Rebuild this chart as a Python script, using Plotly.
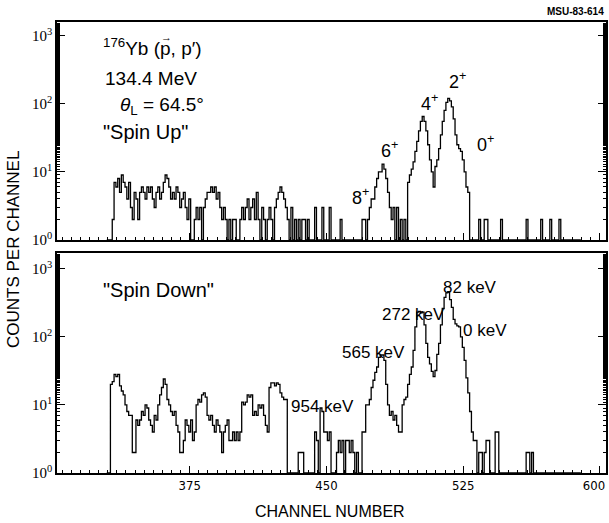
import numpy as np
import plotly.graph_objects as go

# ---------------- data ----------------
first_channel = 330
spin_up = [
    0, 0, 0, 2, 7, 6, 8, 5, 9, 7,        # 330
    6, 4, 7, 3, 2, 5, 4, 2, 5, 6,        # 340
    5, 4, 6, 5, 6, 4, 3, 5, 6, 4,        # 350
    5, 7, 9, 8, 6, 4, 5, 4, 6, 5,        # 360
    3, 4, 5, 3, 2, 4, 1, 0, 2, 3,        # 370
    2, 3, 1, 3, 4, 5, 5, 6, 5, 6,        # 380
    4, 5, 3, 2, 3, 2, 1, 2, 0, 2,        # 390
    2, 1, 0, 2, 3, 2, 3, 4, 2, 3,        # 400
    4, 2, 5, 2, 0, 3, 2, 0, 2, 3,        # 410
    2, 0, 3, 4, 5, 6, 5, 4, 3, 2,        # 420
    0, 3, 0, 2, 0, 2, 0, 2, 2, 0,        # 430
    2, 0, 0, 0, 3, 0, 0, 0, 3, 0,        # 440
    0, 0, 3, 0, 0, 0, 0, 0, 2, 0,        # 450
    0, 0, 0, 0, 0, 0, 0, 0, 0, 0,        # 460
    2, 2, 0, 2, 3, 4, 4, 6, 8, 10,       # 470
    10, 13, 11, 8, 5, 3, 2, 3, 0, 3,     # 480
    0, 2, 0, 2, 0, 7, 9, 11, 14, 20,     # 490
    28, 40, 55, 65, 55, 40, 25, 15, 10, 6,   # 500
    12, 15, 22, 35, 55, 80, 105, 120, 110, 90,  # 510
    60, 35, 25, 22, 20, 15, 10, 6, 5, 0,  # 520
    0, 0, 0, 0, 2, 0, 0, 2, 2, 0,        # 530
    0, 0, 0, 0, 0, 0, 2, 0, 0, 0,        # 540
    0, 0, 0, 0, 0, 0, 0, 0, 0, 0,        # 550
    2, 0, 0, 0, 0, 0, 0, 0, 2, 0,        # 560
    0, 0, 0, 2, 0, 0, 0, 0, 2, 0,        # 570
    0, 0, 0, 0, 0, 0, 0, 0, 0, 0,        # 580
]
spin_down = [
    0, 0, 20, 22, 28, 26, 28, 19, 16, 14,     # 330
    10, 8, 7, 7, 2, 2, 6, 5, 6, 8,            # 340
    7, 10, 9, 6, 5, 4, 7, 6, 10, 14,          # 350
    18, 24, 20, 12, 10, 8, 7, 8, 5, 4,        # 360
    2, 2, 3, 6, 5, 4, 6, 3, 4, 10,            # 370
    12, 11, 14, 15, 13, 7, 6, 7, 5, 4,        # 380
    6, 5, 4, 2, 4, 5, 6, 3, 3, 4,             # 390
    3, 4, 3, 4, 11, 10, 11, 14, 13, 14,       # 400
    7, 8, 7, 10, 9, 10, 7, 5, 4, 18,          # 410
    21, 21, 19, 21, 20, 15, 13, 12, 12, 0,    # 420
    0, 0, 0, 0, 0, 2, 2, 2, 0, 0,             # 430
    0, 0, 0, 0, 4, 3, 0, 9, 8, 4,             # 440
    4, 3, 4, 0, 0, 0, 2, 3, 2, 3,             # 450
    0, 3, 3, 2, 3, 2, 0, 2, 0, 0,             # 460
    4, 4, 10, 10, 12, 18, 23, 30, 36, 50,     # 470
    54, 54, 45, 20, 10, 7, 8, 6, 7, 5,        # 480
    4, 4, 10, 12, 13, 20, 28, 36, 63, 140,    # 490
    230, 235, 225, 230, 150, 80, 50, 40, 31, 26,   # 500
    32, 55, 80, 150, 260, 380, 440, 460, 350, 270, # 510
    180, 155, 145, 140, 100, 70, 45, 25, 15, 8,    # 520
    4, 3, 3, 0, 2, 2, 0, 2, 3, 3,             # 530
    0, 0, 0, 4, 4, 0, 0, 0, 0, 0,             # 540
    0, 0, 0, 0, 0, 0, 0, 0, 0, 0,             # 550
    2, 2, 0, 2, 0, 0, 0, 0, 0, 0,             # 560
    0, 0, 0, 0, 0, 0, 0, 0, 0, 0,             # 570
    0, 0, 0, 0, 0, 0, 0, 0, 0, 0,             # 580
]
x_tick_values = [375, 450, 525, 600]
x_tick_labels = ["375", "450", "525", "600"]
y_tick_values = [1, 10, 100, 1000]
y_tick_labels = ["10<sup>0</sup>", "10<sup>1</sup>", "10<sup>2</sup>", "10<sup>3</sup>"]

# --------------- helpers ---------------
W, H = 609, 523
ML, MR, MT, MB = 57, 3, 22, 50
PW, PH = W - ML - MR, H - MT - MB


def px(x):
    return (x - ML) / PW


def py(y):
    return (H - MB - y) / PH


def steps(counts):
    c = np.asarray(counts, dtype=float)
    ch = first_channel + np.arange(len(c))
    c = np.maximum(c, 1.0)  # empty channels drawn on the 10^0 baseline
    xs = np.append(ch - 0.5, ch[-1] + 0.5)
    ys = np.append(c, c[-1])
    return xs, ys


fig = go.Figure()
xu, yu = steps(spin_up)
xd, yd = steps(spin_down)
fig.add_trace(go.Scatter(x=xu, y=yu, mode="lines", line=dict(color="black", width=1.3, shape="hv"),
                         xaxis="x2", yaxis="y2", showlegend=False, hoverinfo="skip"))
fig.add_trace(go.Scatter(x=xd, y=yd, mode="lines", line=dict(color="black", width=1.3, shape="hv"),
                         xaxis="x", yaxis="y", showlegend=False, hoverinfo="skip"))

tick_font = dict(family="Liberation Serif", size=15, color="black")
xtick_font = dict(family="DejaVu Sans Condensed", size=13, color="black")
xr = [302.2, 603.3]
common_x = dict(range=xr, showline=True, linecolor="black", linewidth=1.5, mirror=True, automargin=False,
                ticks="inside", ticklen=7, tickcolor="black", showgrid=False, zeroline=False,
                minor=dict(dtick=5, tick0=0, ticks="inside", ticklen=3, tickcolor="black"))
common_y = dict(type="log", showline=True, linecolor="black", linewidth=1.5, mirror="ticks", automargin=False,
                ticks="inside", ticklen=8, tickcolor="black", showgrid=False, zeroline=False,
                tickvals=y_tick_values, ticktext=y_tick_labels, tickfont=tick_font,
                minor=dict(ticks="inside", ticklen=3, tickcolor="black"))

top_lo, top_hi = py(240), py(22)
bot_lo, bot_hi = py(473), py(253)

main_text = [t if v != 600 else "" for v, t in zip(x_tick_values, x_tick_labels)]
edge_text = [t for v, t in zip(x_tick_values, x_tick_labels) if v == 600]
clear = "rgba(0,0,0,0)"

fig.update_layout(
    width=W, height=H, margin=dict(l=ML, r=MR, t=MT, b=MB, autoexpand=False),
    paper_bgcolor="white", plot_bgcolor="white",
    xaxis=dict(domain=[0, 1], anchor="y", tickvals=x_tick_values, ticktext=main_text,
               tickfont=xtick_font, **common_x),
    # overlay axis only used to pull the right-most label ("600") inside the page
    xaxis3=dict(overlaying="x", anchor="y", side="bottom", range=xr, tickvals=[600], ticktext=edge_text,
                ticks="inside", ticklen=7, tickcolor=clear, showline=True, linewidth=1.5, linecolor=clear,
                showgrid=False, zeroline=False, automargin=False,
                ticklabelshift=-6, ticklabeloverflow="allow", tickfont=xtick_font),
    yaxis=dict(domain=[bot_lo, bot_hi], anchor="x", range=[0, 3.23], **common_y),
    xaxis2=dict(domain=[0, 1], anchor="y2", tickvals=x_tick_values, showticklabels=False, **common_x),
    yaxis2=dict(domain=[top_lo, top_hi], anchor="x2", range=[0, 3.2], **common_y),
)
# invisible trace so the overlay axis is drawn
fig.add_trace(go.Scatter(x=[x_tick_values[-1]], y=[y_tick_values[0]], mode="markers", marker=dict(opacity=0),
                         xaxis="x3", yaxis="y", showlegend=False, hoverinfo="skip"))

sans = "Liberation Sans"


def label(x, y, text, size=17, xanchor="left", family=sans, bold=False):
    fig.add_annotation(x=px(x), y=py(y), xref="paper", yref="paper", text=("<b>%s</b>" % text) if bold else text,
                       showarrow=False, xanchor=xanchor, yanchor="middle",
                       font=dict(family=family, size=size, color="black"))


label(606, 12, "MSU-83-614", size=10, xanchor="right", bold=True)
label(101, 47, "<sup>176</sup>Yb (p, p\u2032)", size=19)
label(159, 37, "\u2192", size=11)  # vector arrow over the polarized proton
label(103, 78, "134.4 MeV", size=19)
label(118, 106, "<i>\u03b8</i><sub>L</sub> = 64.5\u00b0", size=19)
label(101, 132, "\"Spin Up\"", size=20)
label(350, 196, "8<sup>+</sup>", size=18)
label(379, 149, "6<sup>+</sup>", size=18)
label(419, 102, "4<sup>+</sup>", size=18)
label(447, 80, "2<sup>+</sup>", size=18)
label(475, 143, "0<sup>+</sup>", size=18)
label(101, 290, "\"Spin Down\"", size=20)
label(289, 406, "954 keV", size=17)
label(340, 352, "565 keV", size=17)
label(380, 314, "272 keV", size=17)
label(441, 287, "82 keV", size=17)
label(461, 331, "0 keV", size=17)

fig.add_annotation(x=px(13), y=py(250), xref="paper", yref="paper", text="COUNTS PER CHANNEL",
                   showarrow=False, textangle=-90, xanchor="center", yanchor="middle",
                   font=dict(family=sans, size=17, color="black"))
fig.add_annotation(x=px(330), y=py(511), xref="paper", yref="paper", text="CHANNEL NUMBER",
                   showarrow=False, xanchor="center", yanchor="middle",
                   font=dict(family=sans, size=16, color="black"))

fig.write_html("out.html")
